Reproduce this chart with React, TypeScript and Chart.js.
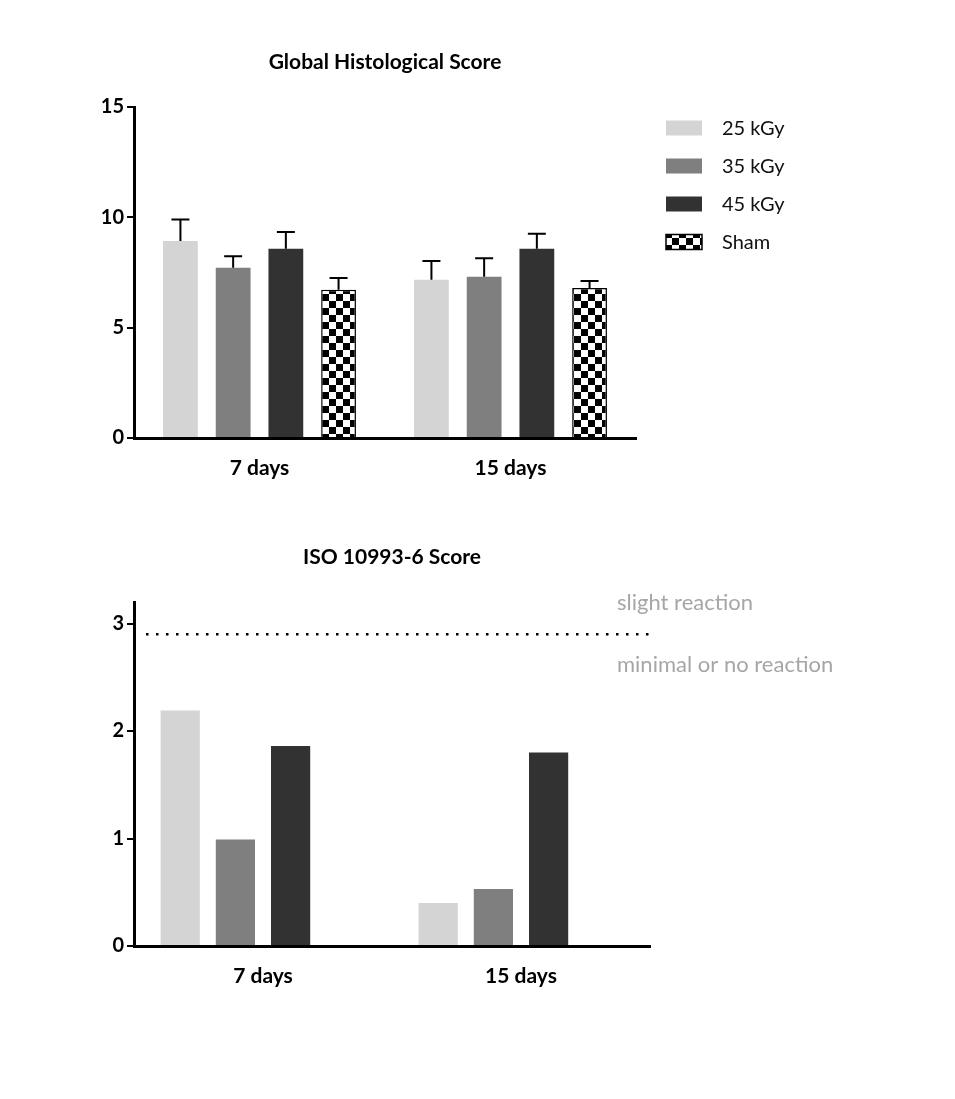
import React, { useEffect, useRef } from "react";
import { Chart, registerables } from "chart.js";

Chart.register(...registerables);

// ---------- data ----------
const categories = ["7 days", "15 days"];
const seriesLabels = ["25 kGy", "35 kGy", "45 kGy", "Sham"];

// Global Histological Score (mean) and upper error (SEM)
const histo25 = [8.93, 7.17];
const histo35 = [7.72, 7.31];
const histo45 = [8.58, 8.58];
const histoSham = [6.72, 6.8];
const err25 = [0.97, 0.85];
const err35 = [0.52, 0.84];
const err45 = [0.75, 0.68];
const errSham = [0.53, 0.32];

// ISO 10993-6 Score
const iso25 = [2.19, 0.4];
const iso35 = [0.99, 0.53];
const iso45 = [1.86, 1.8];
const isoSham: (number | null)[] = [null, null];
const isoThreshold = 2.9;

const histoTicks = [0, 5, 10, 15];
const isoTicks = [0, 1, 2, 3];

const titleTop = "Global Histological Score";
const titleBottom = "ISO 10993-6 Score";
const labelAbove = "slight reaction";
const labelBelow = "minimal or no reaction";

// ---------- styles ----------
const COLORS = ["#d4d4d4", "#7f7f7f", "#323232"];
const FONT = "Lato, 'Open Sans', sans-serif";

function makeChecker(size: number): CanvasPattern | string {
  const c = document.createElement("canvas");
  c.width = size * 2;
  c.height = size * 2;
  const g = c.getContext("2d");
  if (!g) return "#000";
  g.fillStyle = "#fff";
  g.fillRect(0, 0, size * 2, size * 2);
  g.fillStyle = "#000";
  g.fillRect(0, 0, size, size);
  g.fillRect(size, size, size, size);
  const p = g.createPattern(c, "repeat");
  return p || "#000";
}

const errorBarPlugin = {
  id: "errorBars",
  afterDatasetsDraw(chart: any) {
    const errs = chart.options.plugins.errorBars?.errors as number[][] | undefined;
    if (!errs) return;
    const ctx = chart.ctx;
    const yScale = chart.scales.y;
    ctx.save();
    ctx.strokeStyle = "#000";
    ctx.lineWidth = 2;
    chart.data.datasets.forEach((ds: any, i: number) => {
      const e = errs[i];
      if (!e) return;
      const meta = chart.getDatasetMeta(i);
      meta.data.forEach((el: any, j: number) => {
        const v = ds.data[j];
        if (v == null) return;
        const yTop = yScale.getPixelForValue(v + e[j]);
        const yBar = yScale.getPixelForValue(v);
        ctx.beginPath();
        ctx.moveTo(el.x, yBar);
        ctx.lineTo(el.x, yTop);
        ctx.moveTo(el.x - 9, yTop);
        ctx.lineTo(el.x + 9, yTop);
        ctx.stroke();
      });
    });
    ctx.restore();
  },
};

const decorPlugin = {
  id: "decor",
  afterDraw(chart: any) {
    const o = chart.options.plugins.decor || {};
    const ctx = chart.ctx;
    const area = chart.chartArea;
    ctx.save();
    if (o.title) {
      ctx.font = `bold 21px ${FONT}`;
      ctx.fillStyle = "#000";
      ctx.textAlign = "center";
      ctx.textBaseline = "middle";
      ctx.fillText(o.title, (area.left + area.right) / 2, o.titleY);
    }
    if (o.legend) {
      const ds = chart.data.datasets;
      ds.forEach((d: any, i: number) => {
        const cy = o.legendY + i * 38;
        ctx.fillStyle = d.backgroundColor;
        ctx.fillRect(o.legendX, cy - 7.5, 36, 15);
        if (d.borderWidth) {
          ctx.strokeStyle = "#000";
          ctx.lineWidth = 1.5;
          ctx.strokeRect(o.legendX, cy - 7.5, 36, 15);
        }
        ctx.fillStyle = "#111";
        ctx.font = `20px ${FONT}`;
        ctx.textAlign = "left";
        ctx.textBaseline = "middle";
        ctx.fillText(d.label, o.legendX + 56, cy + 1);
      });
    }
    if (o.threshold != null) {
      const y = chart.scales.y.getPixelForValue(o.threshold);
      ctx.strokeStyle = "#000";
      ctx.lineWidth = 2.5;
      ctx.setLineDash([2.5, 7.5]);
      ctx.beginPath();
      ctx.moveTo(area.left + 12, y);
      ctx.lineTo(area.right, y);
      ctx.stroke();
      ctx.setLineDash([]);
      ctx.fillStyle = "#a6a6a6";
      ctx.font = `22px ${FONT}`;
      ctx.textAlign = "left";
      ctx.textBaseline = "middle";
      ctx.fillText(o.above, o.textX, y - 31);
      ctx.fillText(o.below, o.textX, y + 31);
    }
    ctx.restore();
  },
};

function baseScales(max: number, step: number, ticks: number[], yWidth: number, xHeight: number) {
  return {
    x: {
      type: "category" as const,
      offset: true,
      grid: { display: false },
      border: { display: true, color: "#000", width: 3 },
      ticks: {
        color: "#000",
        padding: 10,
        font: { family: FONT, size: 21, weight: "bold" as const },
      },
      afterFit(scale: any) {
        scale.height = xHeight;
      },
    },
    y: {
      type: "linear" as const,
      min: 0,
      max,
      grid: {
        display: true,
        drawOnChartArea: false,
        drawTicks: true,
        tickLength: 7,
        lineWidth: 2,
        color: "#000",
        tickColor: "#000",
      },
      border: { display: true, color: "#000", width: 3 },
      ticks: {
        stepSize: step,
        includeBounds: false,
        color: "#000",
        padding: 3,
        font: { family: FONT, size: 20, weight: "bold" as const },
        callback: (v: any) => (ticks.includes(Number(v)) ? String(v) : null),
      },
      afterFit(scale: any) {
        scale.width = yWidth;
      },
    },
  };
}

export default function App() {
  const topRef = useRef<HTMLCanvasElement>(null);
  const botRef = useRef<HTMLCanvasElement>(null);

  useEffect(() => {
    const checker = makeChecker(7);
    const c1 = new Chart(topRef.current as HTMLCanvasElement, {
      type: "bar",
      data: {
        labels: categories,
        datasets: [
          { label: seriesLabels[0], data: histo25, backgroundColor: COLORS[0], borderWidth: 0 },
          { label: seriesLabels[1], data: histo35, backgroundColor: COLORS[1], borderWidth: 0 },
          { label: seriesLabels[2], data: histo45, backgroundColor: COLORS[2], borderWidth: 0 },
          { label: seriesLabels[3], data: histoSham, backgroundColor: checker as any, borderColor: "#000", borderWidth: 1.5 },
        ],
      },
      options: {
        responsive: false,
        animation: false,
        events: [],
        datasets: { bar: { categoryPercentage: 0.84, barPercentage: 0.66 } },
        layout: { padding: { left: 0, right: 319, top: 107, bottom: 32 } },
        scales: baseScales(15, 5, histoTicks, 134, 50),
        plugins: {
          legend: { display: false },
          tooltip: { enabled: false },
          title: { display: false },
          errorBars: { errors: [err25, err35, err45, errSham] },
          decor: { title: titleTop, titleY: 62, legend: true, legendX: 666, legendY: 128 },
        } as any,
      },
      plugins: [errorBarPlugin, decorPlugin],
    });

    const c2 = new Chart(botRef.current as HTMLCanvasElement, {
      type: "bar",
      data: {
        labels: categories,
        datasets: [
          { label: seriesLabels[0], data: iso25, backgroundColor: COLORS[0], borderWidth: 0 },
          { label: seriesLabels[1], data: iso35, backgroundColor: COLORS[1], borderWidth: 0 },
          { label: seriesLabels[2], data: iso45, backgroundColor: COLORS[2], borderWidth: 0 },
          { label: seriesLabels[3], data: isoSham, backgroundColor: checker as any, borderColor: "#000", borderWidth: 1.5 },
        ],
      },
      options: {
        responsive: false,
        animation: false,
        events: [],
        datasets: { bar: { categoryPercentage: 0.856, barPercentage: 0.71 } },
        layout: { padding: { left: 0, right: 305, top: 82, bottom: 103 } },
        scales: baseScales(3.2, 1, isoTicks, 134, 50),
        plugins: {
          legend: { display: false },
          tooltip: { enabled: false },
          title: { display: false },
          decor: {
            title: titleBottom,
            titleY: 37,
            threshold: isoThreshold,
            above: labelAbove,
            below: labelBelow,
            textX: 617,
          },
        } as any,
      },
      plugins: [decorPlugin],
    });

    return () => {
      c1.destroy();
      c2.destroy();
    };
  }, []);

  return (
    <div style={{ position: "absolute", left: 0, top: 0, width: 955, height: 1099, background: "#fff" }}>
      <canvas ref={topRef} width={955} height={520} style={{ position: "absolute", left: 0, top: 0, width: 955, height: 520 }} />
      <canvas ref={botRef} width={955} height={579} style={{ position: "absolute", left: 0, top: 520, width: 955, height: 579 }} />
    </div>
  );
}
